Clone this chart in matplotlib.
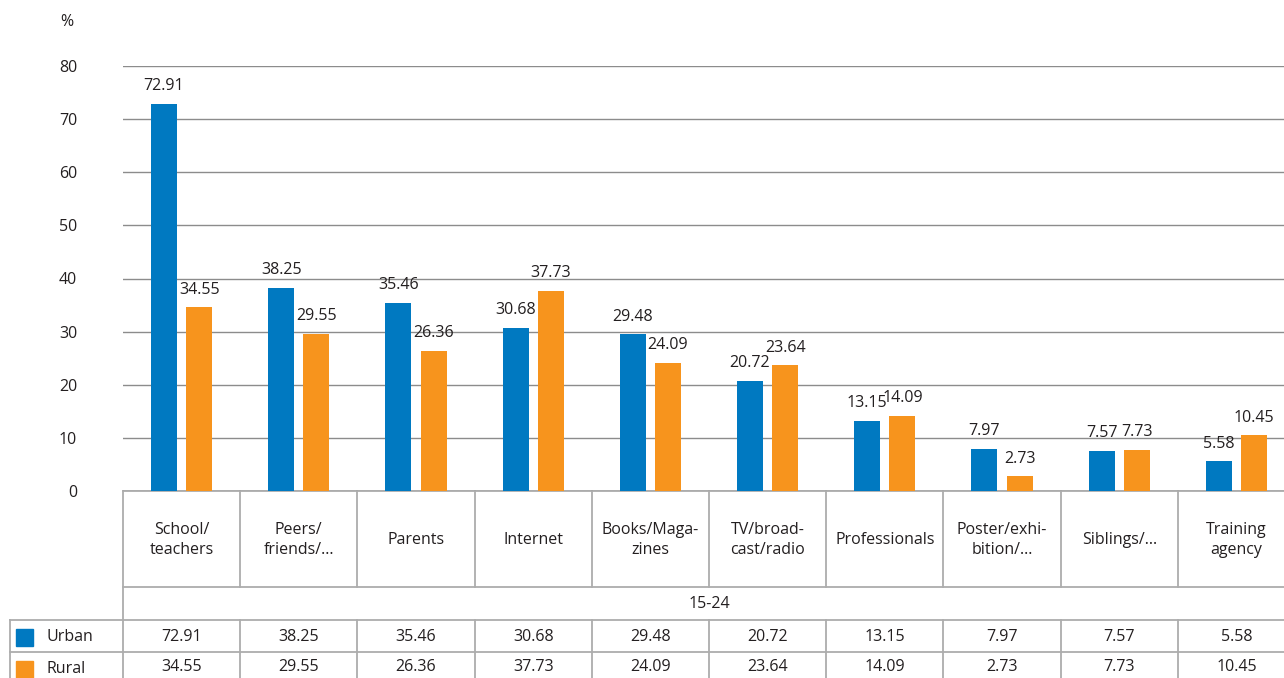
import numpy as np
import matplotlib.pyplot as plt

# data
categories = ['School/\nteachers', 'Peers/\nfriends/...', 'Parents', 'Internet', 'Books/Maga-\nzines',
              'TV/broad-\ncast/radio', 'Professionals', 'Poster/exhi-\nbition/...', 'Siblings/...', 'Training\nagency']
urban = [72.91, 38.25, 35.46, 30.68, 29.48, 20.72, 13.15, 7.97, 7.57, 5.58]
rural = [34.55, 29.55, 26.36, 37.73, 24.09, 23.64, 14.09, 2.73, 7.73, 10.45]
group_label = '15-24'
series = ['Urban', 'Rural']

blue = '#0079c1'
orange = '#f7941d'
grid_c = '#8c8c8c'
line_c = '#adadad'
txt_c = '#231f20'
fs = 11.5

plt.rcParams['font.family'] = ['Open Sans', 'DejaVu Sans']

W, H = 1284, 678
fig = plt.figure(figsize=(W/100, H/100), dpi=100)

# pixel layout (plot runs a little past the right edge of the image)
n = len(categories)
cw = 117.2
x0 = 123
x1 = x0 + n*cw
y0, ytop = 491, 66
ax = fig.add_axes([x0/W, (H-y0)/H, (x1-x0)/W, (y0-ytop)/H])

x = np.arange(n)
bw = 0.222
off = 0.15
ax.bar(x-off, urban, bw, color=blue, zorder=3)
ax.bar(x+off, rural, bw, color=orange, zorder=3)

for i in range(n):
 ax.annotate('%.2f' % urban[i], (x[i]-off, urban[i]), xytext=(0, 7), textcoords='offset points',
             ha='center', va='bottom', fontsize=fs, color=txt_c)
 ax.annotate('%.2f' % rural[i], (x[i]+off, rural[i]), xytext=(0, 7), textcoords='offset points',
             ha='center', va='bottom', fontsize=fs, color=txt_c)

ax.set_xlim(-0.5, n-0.5)
ax.set_ylim(0, 80)
ax.set_yticks(range(0, 81, 10))
ax.yaxis.grid(True, color=grid_c, linewidth=1)
ax.set_axisbelow(True)
ax.tick_params(axis='y', length=0, pad=33, labelsize=fs, labelcolor=txt_c)
ax.set_xticks([])
for s in ax.spines.values():
 s.set_visible(False)
ax.set_facecolor('none')

# table drawn in pixel coordinates
tab = fig.add_axes([0, 0, 1, 1], zorder=-1)
tab.set_xlim(0, W)
tab.set_ylim(H, 0)
tab.axis('off')

tab.text(67, 22, '%', ha='center', va='center', fontsize=fs, color=txt_c)

r_head = 587
r_grp = 620
r_u = 652
lw = 1.3
tab.plot([x0, x1], [y0, y0], color=line_c, lw=lw)
tab.plot([x0, x1], [r_head, r_head], color=line_c, lw=lw)
tab.plot([10, x1], [r_grp, r_grp], color=line_c, lw=lw)
tab.plot([10, x1], [r_u, r_u], color=line_c, lw=lw)
tab.plot([x0, x0], [y0, H], color=line_c, lw=lw)
tab.plot([10, 10], [r_grp, H], color=line_c, lw=lw)
for i in range(1, n):
 xi = x0 + i*cw
 tab.plot([xi, xi], [y0, r_head], color=line_c, lw=lw)
 tab.plot([xi, xi], [r_grp, H], color=line_c, lw=lw)

for i in range(n):
 xc = x0 + (i+0.5)*cw
 tab.text(xc, 540, categories[i], ha='center', va='center', fontsize=fs, color=txt_c, linespacing=1.3)
 tab.text(xc, (r_grp+r_u)/2+1, '%.2f' % urban[i], ha='center', va='center', fontsize=fs, color=txt_c)
 tab.text(xc, (r_u+H)/2+2, '%.2f' % rural[i], ha='center', va='center', fontsize=fs, color=txt_c)

tab.text((x0+x1)/2, (r_head+r_grp)/2+1, group_label, ha='center', va='center', fontsize=fs, color=txt_c)

# legend in table
for k, (name, c) in enumerate(zip(series, [blue, orange])):
 yc = (r_grp+r_u)/2 + k*32 + 1
 tab.add_patch(plt.Rectangle((16, yc-8.5), 17, 17, color=c))
 tab.text(46, yc, name, ha='left', va='center', fontsize=fs, color=txt_c)

plt.savefig('out.png', dpi=100)
